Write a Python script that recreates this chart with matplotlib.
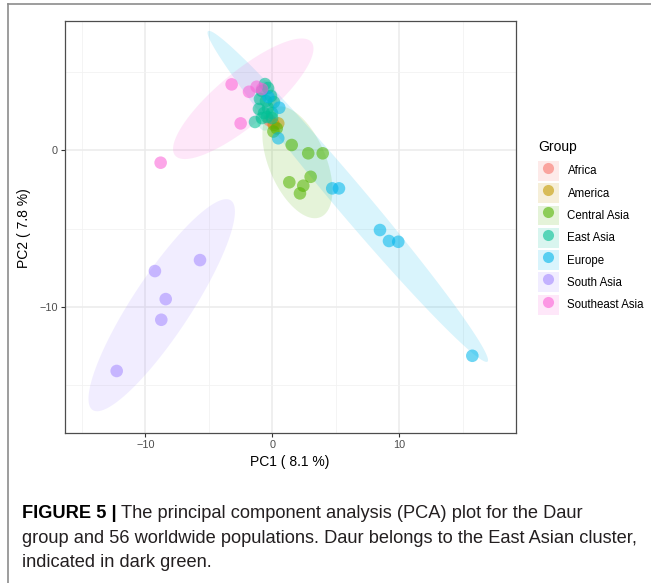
import numpy as np
import matplotlib
matplotlib.use("Agg")
import matplotlib.pyplot as plt
from matplotlib.patches import Polygon, Patch
from matplotlib.lines import Line2D

# ---------------- data ----------------
groups = ["Africa", "America", "Central Asia", "East Asia", "Europe",
          "South Asia", "Southeast Asia"]
colors = ["#F8766D", "#C49A00", "#53B400", "#00C094", "#00B6EB",
          "#A58AFF", "#FB61D7"]

africa_pc1 = [-0.24, 0.05]
africa_pc2 = [1.93, 1.75]

america_pc1 = [0.13, 0.47]
america_pc2 = [1.62, 1.72]

central_asia_pc1 = [1.53, 2.83, 3.97, 3.02, 1.34, 2.44, 2.18, 0.35, 0.09]
central_asia_pc2 = [0.34, -0.19, -0.19, -1.69, -2.04, -2.26, -2.75, 1.40, 1.20]

east_asia_pc1 = [-0.57, -0.34, -0.81, -0.10, -0.97, -0.50, 0.13, -1.05,
                 -0.34, -0.65, -0.02, -1.36, -0.81, -0.42, -0.02]
east_asia_pc2 = [4.23, 3.98, 3.79, 3.47, 3.28, 3.15, 3.08, 2.64,
                 2.70, 2.38, 2.38, 1.81, 2.06, 2.13, 2.06]

europe_pc1 = [-0.30, 0.55, 0.47, 4.72, 5.25, 8.48, 9.19, 9.92, 15.75]
europe_pc2 = [3.40, 2.72, 0.77, -2.43, -2.43, -5.09, -5.79, -5.84, -13.12]

south_asia_pc1 = [-5.69, -9.24, -8.39, -8.74, -12.25]
south_asia_pc2 = [-7.01, -7.71, -9.50, -10.82, -14.09]

southeast_asia_pc1 = [-3.20, -1.83, -1.23, -0.81, -2.49, -8.79]
southeast_asia_pc2 = [4.21, 3.74, 4.06, 3.91, 1.72, -0.79]

pc1 = [africa_pc1, america_pc1, central_asia_pc1, east_asia_pc1,
       europe_pc1, south_asia_pc1, southeast_asia_pc1]
pc2 = [africa_pc2, america_pc2, central_asia_pc2, east_asia_pc2,
       europe_pc2, south_asia_pc2, southeast_asia_pc2]

x_ticks = [-10, 0, 10]
y_ticks = [-10, 0]
x_label = "PC1 ( 8.1 %)"
y_label = "PC2 ( 7.8 %)"
caption_bold = "FIGURE 5 |"
caption_lines = ["The principal component analysis (PCA) plot for the Daur",
                 "group and 56 worldwide populations. Daur belongs to the East Asian cluster,",
                 "indicated in dark green."]
ellipse_level = 0.90


# ------------- stat_ellipse (type = "t") -------------
def cov_trob(X, nu=5, maxit=25, tol=0.01):
    n, p = X.shape
    wt = np.ones(n)
    loc = X.mean(axis=0)
    w = np.sqrt(wt)
    Xc = X - loc
    for _ in range(maxit):
        w0 = w
        Xc = X - loc
        A = np.sqrt(w / w.sum())[:, None] * Xc
        _, d, vt = np.linalg.svd(A, full_matrices=False)
        wX = Xc @ vt.T @ np.diag(1.0 / d)
        Q = (wX ** 2).sum(axis=1)
        w = (wt * (nu + p)) / (nu + Q)
        loc = (w[:, None] * X).sum(axis=0) / w.sum()
        if np.all(np.abs(w - w0) < tol):
            break
    sw = np.sqrt(w)[:, None] * Xc
    cov = sw.T @ sw / wt.sum()
    return cov, loc


def ellipse_points(x, y, level=0.95, segments=120):
    X = np.column_stack([x, y]).astype(float)
    n = len(X)
    cov, center = cov_trob(X)
    m = n - 1
    qf = (m / 2.0) * ((1 - level) ** (-2.0 / m) - 1)   # F(2, m) quantile
    radius = np.sqrt(2 * qf)
    R = np.linalg.cholesky(cov).T
    t = np.linspace(0, 2 * np.pi, segments)
    circ = np.column_stack([np.cos(t), np.sin(t)])
    return center + radius * (circ @ R)


# ---------------- figure ----------------
W, H = 651, 583
fig = plt.figure(figsize=(W / 100, H / 100), dpi=100)
plt.rcParams["font.family"] = ["Liberation Sans", "DejaVu Sans"]

L, R_, T, B = 64.5, 516, 20.5, 433.3
ax = fig.add_axes([L / W, 1 - B / H, (R_ - L) / W, (B - T) / H])
ax.set_xlim(-16.36, 19.19)
ax.set_ylim(-18.07, 8.29)

# ellipses
for gx, gy, c in zip(pc1, pc2, colors):
    if len(gx) >= 3:
        pts = ellipse_points(gx, gy, level=ellipse_level)
        ax.add_patch(Polygon(pts, closed=True, facecolor=c, alpha=0.15,
                             edgecolor="none", zorder=2))

# points
for gx, gy, c in zip(pc1, pc2, colors):
    ax.scatter(gx, gy, s=82, color=c, alpha=0.56, edgecolors="none", zorder=3)

ax.set_xticks(x_ticks)
ax.set_yticks(y_ticks)
ax.set_xticks([-15, -5, 5, 15], minor=True)
ax.set_yticks([-15, -5, 5], minor=True)
ax.grid(True, which="major", color="#EBEBEB", lw=1.1, zorder=0)
ax.grid(True, which="minor", color="#F2F2F2", lw=0.6, zorder=0)
ax.set_axisbelow(True)
for sp in ax.spines.values():
    sp.set_color("#4d4d4d")
    sp.set_linewidth(0.9)
ax.tick_params(which="major", length=3, width=0.8, color="#333333",
               labelcolor="#4D4D4D", labelsize=7.8, pad=2)
ax.tick_params(which="minor", length=0)

fig.text(290 / W, 1 - 462 / H, x_label, ha="center", va="center", fontsize=10)
fig.text(24 / W, 1 - 228 / H, y_label, ha="center", va="center",
         rotation=90, fontsize=10)

# legend
fig.text(538 / W, 1 - 147 / H, "Group", ha="left", va="center", fontsize=10)
handles = []
for c in colors:
    handles.append((Patch(facecolor=c, alpha=0.15, edgecolor="none"),
                    Line2D([], [], ls="", marker="o", ms=8, mfc=c, mec="none",
                           alpha=0.6)))
fig.legend(handles, groups, loc="upper left",
           bbox_to_anchor=(537.5 / W, 1 - 161 / H), bbox_transform=fig.transFigure,
           frameon=False, fontsize=8.3, handlelength=1.85, handleheight=2.26,
           labelspacing=0.22, handletextpad=0.75, borderpad=0, borderaxespad=0)

# outer frame of the figure panel
fig.add_artist(Line2D([8 / W, 1], [1 - 4 / H, 1 - 4 / H], transform=fig.transFigure,
                      color="#8c8c8c", lw=1.2))
fig.add_artist(Line2D([8 / W, 8 / W], [1 - 4 / H, 0], transform=fig.transFigure,
                      color="#8c8c8c", lw=1.2))

# caption
cap_col = "#231F20"
fig.canvas.draw()
renderer = fig.canvas.get_renderer()
probe = fig.text(0, 0, caption_lines[1], fontsize=12)
wpx = probe.get_window_extent(renderer).width
probe.remove()
cap_fs = 12 * 619 / wpx

tb = fig.text(22 / W, 1 - 518 / H, caption_bold, fontsize=cap_fs, weight="bold",
              color="black", ha="left", va="baseline")
fig.canvas.draw()
bb = tb.get_window_extent(renderer)
fig.text((bb.x1 + 4) / W, 1 - 518 / H, caption_lines[0], fontsize=cap_fs,
         color=cap_col, ha="left", va="baseline")
fig.text(22 / W, 1 - 543 / H, caption_lines[1], fontsize=cap_fs, color=cap_col,
         ha="left", va="baseline")
fig.text(22 / W, 1 - 567 / H, caption_lines[2], fontsize=cap_fs, color=cap_col,
         ha="left", va="baseline")

fig.savefig("out.png", dpi=100)
